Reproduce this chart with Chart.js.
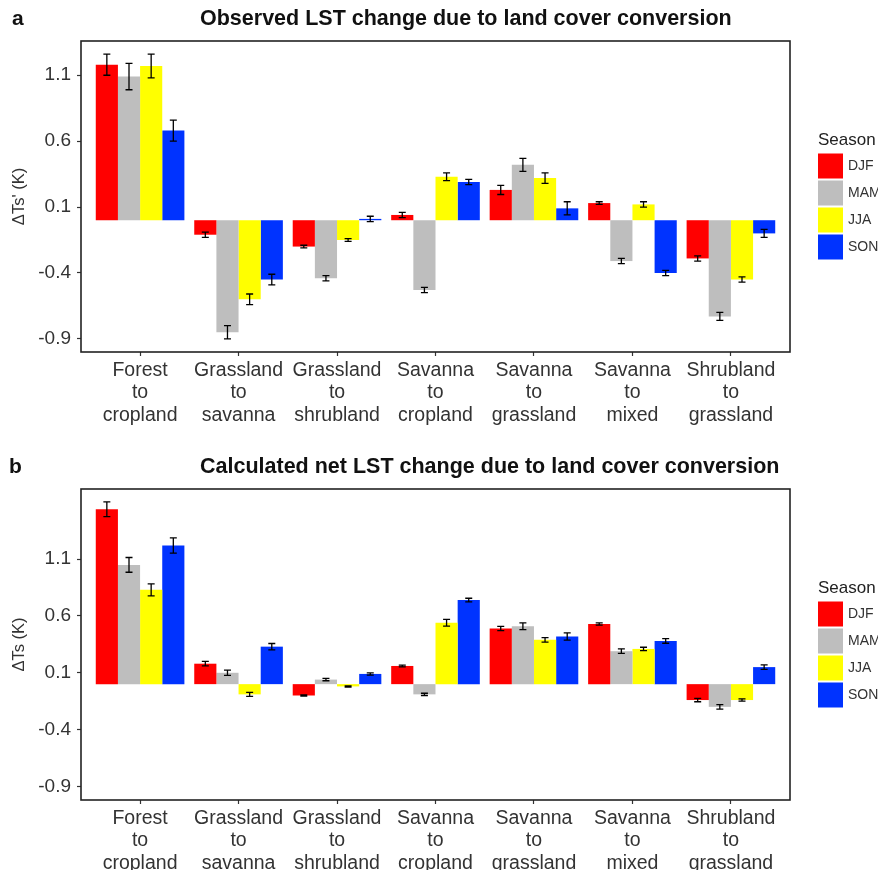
<!DOCTYPE html>
<html>
<head>
<meta charset="utf-8">
<script src="https://cdn.jsdelivr.net/npm/chart.js@4.4.1/dist/chart.umd.min.js"></script>
<style>
  html, body { margin: 0; padding: 0; background: #fff; overflow: hidden; }
  canvas { display: block; }
</style>
</head>
<body>
<canvas id="chartA" width="878" height="435"></canvas>
<canvas id="chartB" width="878" height="435"></canvas>
<script>
// ─── DATA ─────────────────────────────────────────────────────
const categories = [
  ['Forest', 'to', 'cropland'],
  ['Grassland', 'to', 'savanna'],
  ['Grassland', 'to', 'shrubland'],
  ['Savanna', 'to', 'cropland'],
  ['Savanna', 'to', 'grassland'],
  ['Savanna', 'to', 'mixed'],
  ['Shrubland', 'to', 'grassland']
];
const seasons = ['DJF', 'MAM', 'JJA', 'SON'];
const seasonColors = ['#FF0000', '#BEBEBE', '#FFFF00', '#0033FF'];
const yTicks = [-0.9, -0.4, 0.1, 0.6, 1.1];

// a: observed LST change
const obsDJF = [1.18, -0.11, -0.20, 0.04, 0.23, 0.13, -0.29];
const obsMAM = [1.09, -0.85, -0.44, -0.53, 0.42, -0.31, -0.73];
const obsJJA = [1.17, -0.60, -0.15, 0.33, 0.32, 0.12, -0.45];
const obsSON = [0.68, -0.45, 0.01, 0.29, 0.09, -0.40, -0.10];
const obsDJFerr = [0.08, 0.02, 0.01, 0.02, 0.035, 0.01, 0.02];
const obsMAMerr = [0.10, 0.05, 0.02, 0.02, 0.05, 0.02, 0.03];
const obsJJAerr = [0.09, 0.04, 0.01, 0.03, 0.04, 0.02, 0.02];
const obsSONerr = [0.08, 0.04, 0.02, 0.02, 0.05, 0.02, 0.03];

// b: calculated net LST change
const netDJF = [1.54, 0.18, -0.10, 0.16, 0.49, 0.53, -0.14];
const netMAM = [1.05, 0.10, 0.04, -0.09, 0.51, 0.29, -0.20];
const netJJA = [0.83, -0.09, -0.02, 0.54, 0.39, 0.31, -0.14];
const netSON = [1.22, 0.33, 0.09, 0.74, 0.42, 0.38, 0.15];
const netDJFerr = [0.065, 0.02, 0.005, 0.008, 0.018, 0.01, 0.015];
const netMAMerr = [0.065, 0.023, 0.01, 0.01, 0.03, 0.02, 0.02];
const netJJAerr = [0.053, 0.018, 0.005, 0.03, 0.02, 0.015, 0.01];
const netSONerr = [0.067, 0.028, 0.01, 0.016, 0.032, 0.02, 0.02];

const FONT = '"Liberation Sans", Arial, sans-serif';
const TEXT = '#333333';

// ─── PLUGINS ──────────────────────────────────────────────────
// error bars, read from each dataset's errors array
const errorBars = {
  id: 'errorBars',
  afterDatasetsDraw(chart) {
    const ctx = chart.ctx, y = chart.scales.y;
    ctx.save();
    ctx.strokeStyle = '#000';
    ctx.lineWidth = 1.3;
    chart.data.datasets.forEach((ds, i) => {
      chart.getDatasetMeta(i).data.forEach((bar, j) => {
        const v = ds.data[j].y, e = ds.errors[j];
        const y1 = y.getPixelForValue(v + e), y2 = y.getPixelForValue(v - e);
        ctx.beginPath();
        ctx.moveTo(bar.x, y1); ctx.lineTo(bar.x, y2);
        ctx.moveTo(bar.x - 3.5, y1); ctx.lineTo(bar.x + 3.5, y1);
        ctx.moveTo(bar.x - 3.5, y2); ctx.lineTo(bar.x + 3.5, y2);
        ctx.stroke();
      });
    });
    ctx.restore();
  }
};

// panel border, panel letter, title and the Season legend
const decor = {
  id: 'decor',
  afterDraw(chart, args, o) {
    const ctx = chart.ctx, a = chart.chartArea;
    ctx.save();
    ctx.strokeStyle = '#222';
    ctx.lineWidth = 1.6;
    ctx.strokeRect(a.left, a.top, a.right - a.left, a.bottom - a.top);

    ctx.textBaseline = 'middle';
    ctx.textAlign = 'left';
    ctx.fillStyle = '#111';
    ctx.font = 'bold 21px ' + FONT;
    ctx.fillText(o.letter, o.letterX, o.titleY);
    ctx.font = 'bold 21.5px ' + FONT;
    ctx.fillText(o.title, 200, o.titleY);

    const cy = (a.top + a.bottom) / 2;
    ctx.font = '17px ' + FONT;
    ctx.fillStyle = '#222';
    ctx.fillText('Season', 818, cy - 56);
    ctx.font = '14px ' + FONT;
    chart.data.datasets.forEach((ds, i) => {
      const top = cy - 43 + i * 27;
      ctx.fillStyle = ds.backgroundColor;
      ctx.fillRect(818, top, 25, 25);
      ctx.fillStyle = TEXT;
      ctx.fillText(ds.label, 848, top + 13);
    });
    ctx.restore();
  }
};

// ─── CHARTS ───────────────────────────────────────────────────
function makeChart(id, cfg) {
  const datasets = cfg.values.map((vals, k) => ({
    label: seasons[k],
    data: vals.map((v, i) => ({ x: i, y: v })),
    errors: cfg.errors[k],
    backgroundColor: seasonColors[k],
    borderWidth: 0,
    categoryPercentage: 0.9,
    barPercentage: 1.0
  }));
  const tickGrid = { offset: false, drawOnChartArea: false, drawTicks: true, tickLength: 4, tickColor: '#333', tickWidth: 1.2 };
  new Chart(document.getElementById(id), {
    type: 'bar',
    data: { datasets },
    options: {
      responsive: false, animation: false,
      layout: { padding: { top: cfg.top, right: 88, left: 0, bottom: 0 } },
      plugins: {
        legend: { display: false },
        tooltip: { enabled: false },
        decor: { letter: cfg.letter, letterX: cfg.letterX, title: cfg.title, titleY: cfg.titleY }
      },
      scales: {
        x: {
          type: 'linear', min: -0.6, max: 6.6, offset: false,
          afterFit: s => { s.height = cfg.axisH; },
          grid: tickGrid, border: { display: false },
          ticks: {
            stepSize: 1, includeBounds: false, autoSkip: false, maxRotation: 0, minRotation: 0,
            padding: 3, color: TEXT, font: { family: FONT, size: 19.5, lineHeight: '22.5px' },
            callback: v => Number.isInteger(v) ? categories[v] : ''
          }
        },
        y: {
          min: cfg.yMin, max: cfg.yMax,
          afterFit: s => { s.width = 81; },
          afterBuildTicks: s => { s.ticks = yTicks.map(v => ({ value: v })); },
          grid: tickGrid, border: { display: false },
          ticks: { padding: 6, color: TEXT, font: { family: FONT, size: 19 }, callback: v => v.toFixed(1) },
          title: { display: true, text: cfg.yTitle, color: TEXT, font: { family: FONT, size: 16.5 }, padding: { top: 9.5, bottom: 0 } }
        }
      }
    },
    plugins: [errorBars, decor]
  });
}

makeChart('chartA', {
  letter: 'a', letterX: 12, titleY: 19,
  title: 'Observed LST change due to land cover conversion',
  yTitle: "\u0394Ts' (K)",
  values: [obsDJF, obsMAM, obsJJA, obsSON],
  errors: [obsDJFerr, obsMAMerr, obsJJAerr, obsSONerr],
  yMin: -1.0, yMax: 1.36, top: 41, axisH: 83
});

makeChart('chartB', {
  letter: 'b', letterX: 9, titleY: 32,
  title: 'Calculated net LST change due to land cover conversion',
  yTitle: '\u0394Ts (K)',
  values: [netDJF, netMAM, netJJA, netSON],
  errors: [netDJFerr, netMAMerr, netJJAerr, netSONerr],
  yMin: -1.02, yMax: 1.718, top: 54, axisH: 70
});
</script>
</body>
</html>
